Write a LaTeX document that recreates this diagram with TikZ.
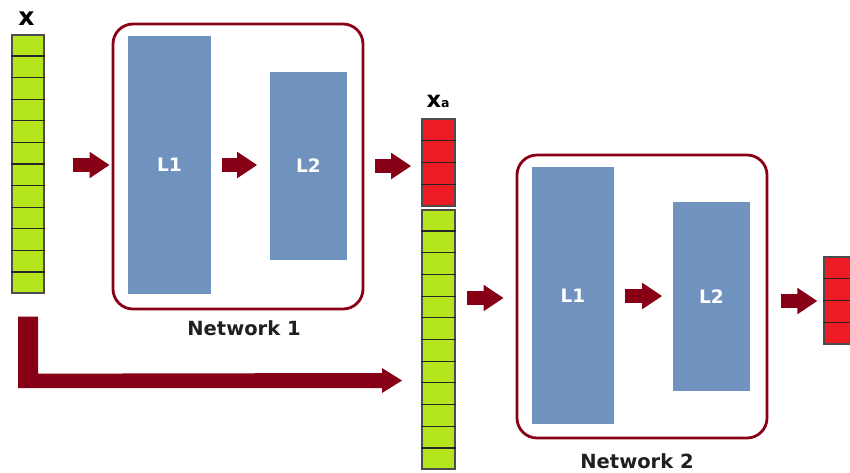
\documentclass[tikz,border=0pt]{standalone}
\usepackage{fontspec}
\setmainfont{DejaVu Sans}
\usetikzlibrary{arrows.meta,calc}
\definecolor{arrowred}{RGB}{136,0,21}
\definecolor{cellgreen}{RGB}{181,230,29}
\definecolor{cellred}{RGB}{237,28,36}
\definecolor{layerblue}{RGB}{112,146,190}
\begin{document}
\begin{tikzpicture}[x=1pt,y=-1pt,
  col/.style={draw=black!70, line width=1.3pt, inner sep=0pt, minimum width=33pt},
  cellline/.style={draw=black!85, line width=1.1pt},
  layer/.style={fill=layerblue, draw=none, inner sep=0pt, text=white, font=\bfseries\fontsize{18.5}{18.5}\selectfont},
  netbox/.style={draw=arrowred, line width=2.8pt, rounded corners=20pt, inner sep=0pt},
  barrow/.style={draw=arrowred, line width=14pt, -{Triangle[length=20pt,width=25pt]}},
  netlabel/.style={font=\bfseries\fontsize{19.5}{19.5}\selectfont, text=black!88, inner sep=0pt},
  varlabel/.style={font=\bfseries\fontsize{25}{25}\selectfont, inner sep=0pt}
]
\clip (0,0) rectangle (850,472);
\fill[white] (0,0) rectangle (850,472);

% input column x
\node[col, fill=cellgreen, minimum width=32pt, minimum height=258pt] (x) at (28,164) {};
\foreach \i in {1,...,11}
  \draw[cellline] ($(x.north west)!\i/12!(x.south west)$) -- ($(x.north east)!\i/12!(x.south east)$);
\node[varlabel, anchor=base] (xlab) at (26.5,25.5) {x};

% network 1
\node[netbox, minimum width=250pt, minimum height=285pt] (net1) at (238,166.5) {};
\node[layer, minimum width=83pt, minimum height=258pt] (l1a) at (169.5,165) {L1};
\node[layer, minimum width=77pt, minimum height=188pt] (l2a) at (308.5,166) {L2};
\node[netlabel] (net1lab) at (244,328) {Network 1};

% augmented column xa
\node[col, fill=cellred, minimum height=87pt] (xared) at (438.5,162.5) {};
\foreach \i in {1,...,3}
  \draw[cellline] ($(xared.north west)!\i/4!(xared.south west)$) -- ($(xared.north east)!\i/4!(xared.south east)$);
\node[col, fill=cellgreen, minimum height=259pt] (xagreen) at (438.5,339.5) {};
\foreach \i in {1,...,11}
  \draw[cellline] ($(xagreen.north west)!\i/12!(xagreen.south west)$) -- ($(xagreen.north east)!\i/12!(xagreen.south east)$);
\node[anchor=base west, inner sep=0pt] (xalab) at (426.5,107.5)
  {\bfseries\fontsize{22.5}{22.5}\selectfont x\fontsize{12.5}{12.5}\selectfont a};

% network 2
\node[netbox, minimum width=250pt, minimum height=283pt] (net2) at (642,296.5) {};
\node[layer, minimum width=82pt, minimum height=257pt] (l1b) at (573,295.5) {L1};
\node[layer, minimum width=77pt, minimum height=189pt] (l2b) at (711.5,296.5) {L2};
\node[netlabel] (net2lab) at (637,461) {Network 2};

% output column
\node[col, fill=cellred, minimum width=34pt, minimum height=87pt] (out) at (841,300.5) {};
\foreach \i in {1,...,3}
  \draw[cellline] ($(out.north west)!\i/4!(out.south west)$) -- ($(out.north east)!\i/4!(out.south east)$);

% block arrows
\draw[barrow] ($(x.east)+(28,1)$) -- ++(37,0);
\draw[barrow] ($(l1a.east)+(11,0)$) -- ++(35,0);
\draw[barrow] ($(l2a.east)+(28,0)$) -- ++(36,0);
\draw[barrow] ($(net2.west)+(-49,1.5)$) -- ++(37,0);
\draw[barrow] ($(l1b.east)+(11,0.5)$) -- ++(37,0);
\draw[barrow] ($(net2.east)+(13,4.5)$) -- ++(36,0);

% skip connection (L-shaped arrow from x to xa)
\fill[arrowred] ($(x.south)+(-10,23)$) -- ++(20,0) -- ++(0,57) -- (382,373) -- (382,368)
  -- (402,380.5) -- (382,393) -- (382,388) -- (18,388) -- cycle;
\end{tikzpicture}
\end{document}
